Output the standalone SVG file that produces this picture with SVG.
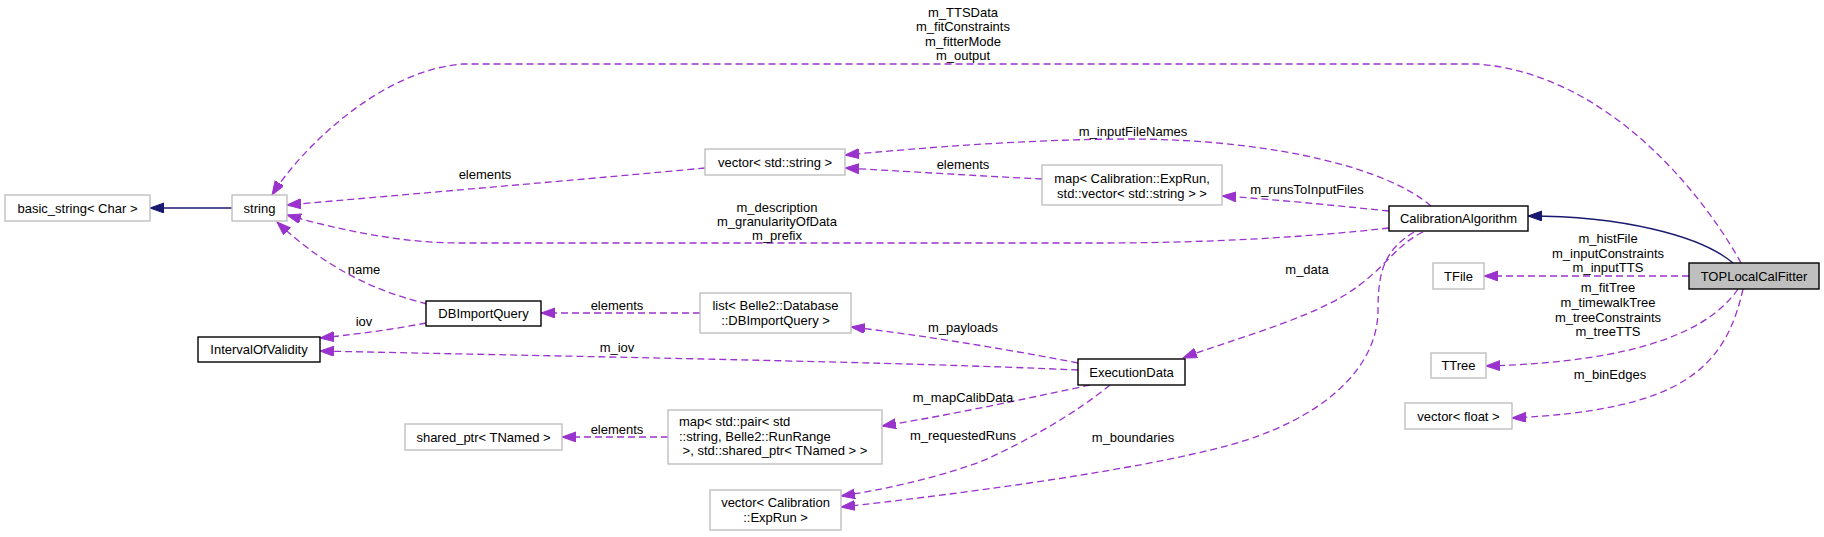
<svg xmlns="http://www.w3.org/2000/svg" width="1824" height="537" viewBox="0 0 1824 537">
<defs>
<style>
text{font-family:"Liberation Sans",Arial,Helvetica,sans-serif;font-size:13px;fill:#000;text-anchor:middle}
.g{fill:#fff;stroke:#bfbfbf;stroke-width:1.4}
.b{fill:#fff;stroke:#000;stroke-width:1.4}
.main{fill:#bfbfbf;stroke:#000;stroke-width:1.4}
.u{fill:none;stroke:#9a32cd;stroke-width:1.3;stroke-dasharray:7,4;marker-end:url(#ap)}
.i{fill:none;stroke:#191970;stroke-width:1.3;marker-end:url(#an)}
.l{text-anchor:start}
</style>
<marker id="ap" markerUnits="userSpaceOnUse" markerWidth="15" markerHeight="11" refX="14" refY="5" orient="auto" viewBox="0 0 15 11"><path d="M0,0 L14,5 L0,10 z" fill="#9a32cd" stroke="#9a32cd" stroke-width="1"/></marker>
<marker id="an" markerUnits="userSpaceOnUse" markerWidth="15" markerHeight="11" refX="14" refY="5" orient="auto" viewBox="0 0 15 11"><path d="M0,0 L14,5 L0,10 z" fill="#191970" stroke="#191970" stroke-width="1"/></marker>
</defs>
<rect width="1824" height="537" fill="#fff"/>
<g id="connectors">
<path class="i" d="M232,208 L150,208"/>
<path class="u" d="M705,168 C600,178 400,195 287,205"/>
<text x="485" y="178.5">elements</text>
<path class="u" d="M1741,263 C1715,215 1620,75 1477,64 L463,64 C380,70 300,150 272,195"/>
<text x="963" y="16.5">m_TTSData</text>
<text x="963" y="30.5">m_fitConstraints</text>
<text x="963" y="45.5">m_fitterMode</text>
<text x="963" y="60">m_output</text>
<path class="u" d="M1389,228 C1300,238 1200,243 1100,243 L460,243 C400,243 340,230 287,215"/>
<text x="777" y="211.5">m_description</text>
<text x="777" y="225.5">m_granularityOfData</text>
<text x="777" y="240">m_prefix</text>
<path class="u" d="M1431,206 C1390,170 1280,140 1133,139 C1030,139 920,148 845,155"/>
<text x="1133" y="136">m_inputFileNames</text>
<path class="u" d="M1042,179 C980,176 900,171 845,168"/>
<text x="963" y="168.5">elements</text>
<path class="u" d="M1389,211 C1330,205 1270,199 1222,196"/>
<text x="1307" y="193.5">m_runsToInputFiles</text>
<path class="i" d="M1733,263 C1700,235 1620,216 1528,216"/>
<path class="u" d="M1689,276 L1484,276"/>
<text x="1608" y="242.5">m_histFile</text>
<text x="1608" y="257.5">m_inputConstraints</text>
<text x="1608" y="271.5">m_inputTTS</text>
<path class="u" d="M1738,289 C1710,330 1640,362 1486,366"/>
<text x="1608" y="291.5">m_fitTree</text>
<text x="1608" y="306.5">m_timewalkTree</text>
<text x="1608" y="321.5">m_treeConstraints</text>
<text x="1608" y="335.5">m_treeTTS</text>
<path class="u" d="M1743,289 C1725,370 1680,410 1512,418"/>
<text x="1610" y="378.5">m_binEdges</text>
<path class="u" d="M1423,232 C1395,245 1385,270 1345,295 C1300,322 1230,340 1183,358"/>
<text x="1307" y="273.5">m_data</text>
<path class="u" d="M1414,232 C1385,250 1378,270 1378,310 C1378,370 1320,420 1230,445 C1130,472 950,495 841,507"/>
<text x="1133" y="441.5">m_boundaries</text>
<path class="u" d="M1078,363 C1000,348 920,335 851,327"/>
<text x="963" y="331.5">m_payloads</text>
<path class="u" d="M1078,370 C900,362 600,357 320,351"/>
<text x="617" y="351.5">m_iov</text>
<path class="u" d="M426,323 C390,330 350,335 320,338"/>
<text x="364" y="325.5">iov</text>
<path class="u" d="M427,304 C380,292 330,272 277,222"/>
<text x="364" y="273.5">name</text>
<path class="u" d="M700,313 L541,313"/>
<text x="617" y="309.5">elements</text>
<path class="u" d="M1090,385 C1020,400 950,415 882,426"/>
<text x="963" y="401.5">m_mapCalibData</text>
<path class="u" d="M1110,385 C1080,410 1030,440 980,462 C930,480 880,490 841,496"/>
<text x="963" y="439.5">m_requestedRuns</text>
<path class="u" d="M668,437 L562,437"/>
<text x="617" y="433.5">elements</text>
</g>
<g id="basic_string"><rect class="g" x="5" y="195" width="145" height="26"/><text x="77.5" y="212.5">basic_string&lt; Char &gt;</text></g>
<g id="string"><rect class="g" x="232" y="195" width="55" height="26"/><text x="259.5" y="212.5">string</text></g>
<g id="vector_string"><rect class="g" x="705" y="149" width="140" height="26"/><text x="775" y="166.5">vector&lt; std::string &gt;</text></g>
<g id="map_expRun"><rect class="g" x="1042" y="165" width="180" height="40"/><text x="1132" y="182.5">map&lt; Calibration::ExpRun,</text><text x="1132" y="197.5">std::vector&lt; std::string &gt; &gt;</text></g>
<g id="CalibrationAlgorithm"><rect class="b" x="1389" y="206" width="139" height="25"/><text x="1458.5" y="223">CalibrationAlgorithm</text></g>
<g id="TOPLocalCalFitter"><rect class="main" x="1689" y="263" width="130" height="26"/><text x="1754" y="280.5">TOPLocalCalFitter</text></g>
<g id="TFile"><rect class="g" x="1433" y="263" width="51" height="26"/><text x="1458.5" y="280.5">TFile</text></g>
<g id="TTree"><rect class="g" x="1431" y="353" width="55" height="25"/><text x="1458.5" y="370">TTree</text></g>
<g id="vector_float"><rect class="g" x="1405" y="403" width="107" height="26"/><text x="1458.5" y="420.5">vector&lt; float &gt;</text></g>
<g id="DBImportQuery"><rect class="b" x="426" y="301" width="115" height="25"/><text x="483.5" y="318">DBImportQuery</text></g>
<g id="IntervalOfValidity"><rect class="b" x="198" y="337" width="122" height="25"/><text x="259" y="354">IntervalOfValidity</text></g>
<g id="list_DBImportQuery"><rect class="g" x="700" y="293" width="151" height="40"/><text x="775.5" y="309.5">list&lt; Belle2::Database</text><text x="775.5" y="324.5">::DBImportQuery &gt;</text></g>
<g id="ExecutionData"><rect class="b" x="1078" y="359" width="107" height="26"/><text x="1131.5" y="376.5">ExecutionData</text></g>
<g id="shared_ptr"><rect class="g" x="405" y="424" width="157" height="26"/><text x="483.5" y="441.5">shared_ptr&lt; TNamed &gt;</text></g>
<g id="map_pair"><rect class="g" x="668" y="410" width="214" height="54"/><text class="l" x="679" y="425.5">map&lt; std::pair&lt; std</text><text class="l" x="679" y="440.5">::string, Belle2::RunRange</text><text class="l" x="679" y="454.5" xml:space="preserve"> &gt;, std::shared_ptr&lt; TNamed &gt; &gt;</text></g>
<g id="vector_calib"><rect class="g" x="710" y="490" width="131" height="40"/><text x="775.5" y="506.5">vector&lt; Calibration</text><text x="775.5" y="521.5">::ExpRun &gt;</text></g>
</svg>
